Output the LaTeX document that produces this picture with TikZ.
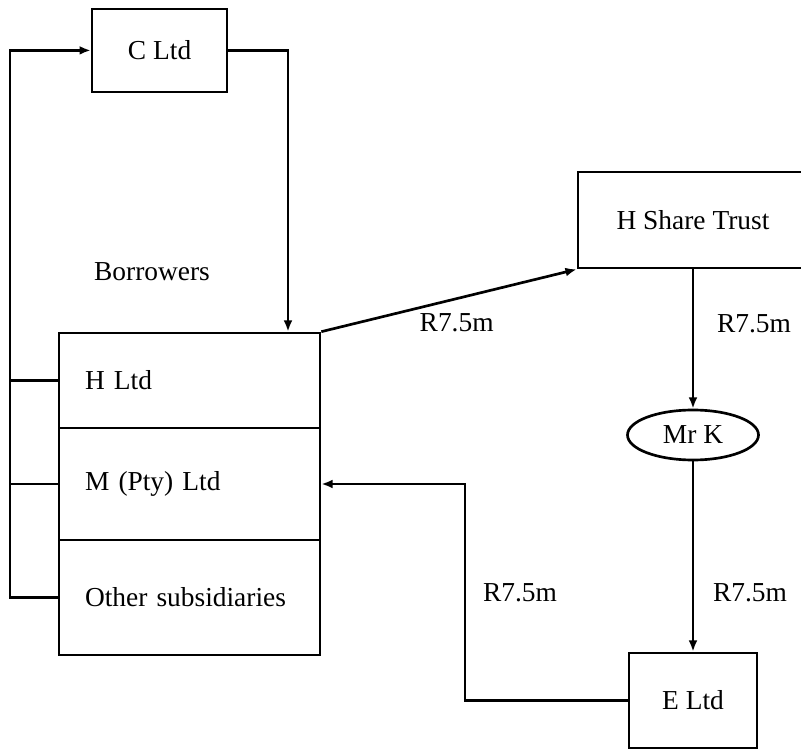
\documentclass[tikz,border=0pt]{standalone}
\usepackage{fontspec}
\setmainfont{Liberation Serif}
\usetikzlibrary{arrows.meta,positioning,calc,shapes.geometric}

\begin{document}
\begin{tikzpicture}[
  every node/.style={font=\fontsize{19.5}{23}\selectfont},
  box/.style={draw, line width=1.9pt, inner sep=0pt, align=center},
  row/.style={draw, line width=1.9pt, minimum width=6.525cm, text width=5.225cm,
              inner xsep=0.65cm, align=left},
  arr/.style={-{Latex[length=0.28cm,width=0.22cm]}, line width=1.9pt, line join=miter},
  ln/.style={line width=1.9pt},
]
  \useasboundingbox (0,0) rectangle (20.025,18.75);

  % Lender at the top
  \node[box, minimum width=3.375cm, minimum height=2.075cm] (cltd) at (3.99,17.49) {C Ltd};

  % Borrowers: one box split in three rows
  \node (borrowers) at (3.8,11.95) {Borrowers};
  \node[row, minimum height=2.375cm] (hltd)  at (4.7375,9.2375) {H Ltd};
  \node[row, minimum height=2.8cm]   (mltd)  at (4.7375,6.65)   {M (Pty) Ltd};
  \node[row, minimum height=2.875cm] (other) at (4.7375,3.8125) {Other subsidiaries};

  % Right-hand side
  \node[box, minimum width=5.75cm, minimum height=2.4cm] (trust) at (17.325,13.25) {H Share Trust};
  \node[ellipse, draw, line width=1.9pt, minimum width=3.275cm, minimum height=1.25cm,
        inner sep=0pt] (mrk) at (17.325,7.875) {Mr K};
  \node[box, minimum width=3.2cm, minimum height=2.375cm] (eltd) at (17.325,1.2375) {E Ltd};

  \coordinate (ltop) at (0.25,17.49);
  \coordinate (rtop) at (7.2,17.49);
  \coordinate (turn) at (11.625,6.65);

  % Loans from C Ltd to the group
  \draw[arr] (other.west) -| (ltop) -- (cltd.west);
  \draw[ln] (hltd.west) -- (hltd.west -| ltop);
  \draw[ln] (mltd.west) -- (mltd.west -| ltop);
  \draw[arr] (cltd.east) -- (rtop) -- (rtop |- hltd.north);

  % Flow of the R7.5m
  \draw[arr] (hltd.north east) -- node[pos=0.53, below=0.22cm] {R7.5m} (trust.south west);
  \draw[arr] (trust) -- node[pos=0.39, right=0.45cm] {R7.5m} (mrk);
  \draw[arr] (mrk) -- node[pos=0.69, right=0.35cm] {R7.5m} (eltd);
  \draw[arr] (eltd.west) -| node[pos=0.75, right=0.3cm] {R7.5m} (turn) -- (mltd.east);
\end{tikzpicture}
\end{document}
